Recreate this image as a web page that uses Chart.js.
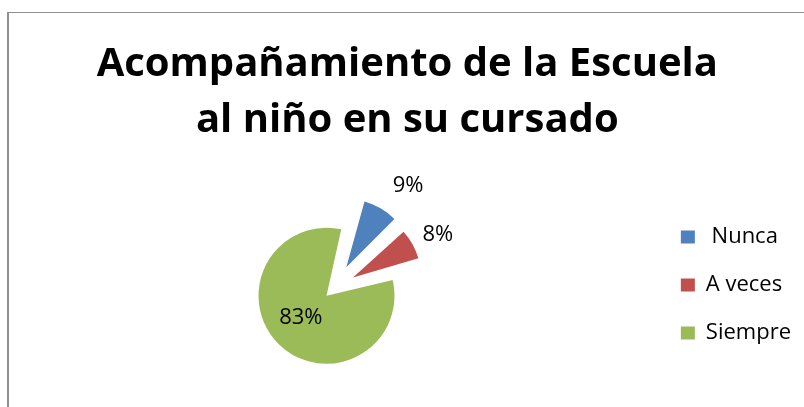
<!DOCTYPE html>
<html>
<head>
<meta charset="utf-8">
<script src="https://cdn.jsdelivr.net/npm/chart.js@4.4.1/dist/chart.umd.min.js"></script>
<style>
  html, body { margin: 0; padding: 0; background: #ffffff; overflow: hidden; }
  #wrap { position: relative; width: 804px; height: 407px; }
  #chart { position: absolute; left: 0; top: 0; }
  #frame { position: absolute; left: 7px; top: 12px; width: 820px; height: 420px;
           border-left: 2px solid #8f8f8f; border-top: 1.5px solid #8f8f8f; pointer-events: none; }
</style>
</head>
<body>
<div id="wrap">
  <canvas id="chart" width="804" height="407" style="width:804px;height:407px"></canvas>
  <div id="frame"></div>
</div>
<script>
// ---- data ----
const categories = [' Nunca', 'A veces', 'Siempre'];
const percentages = [9, 8, 83];
const sliceColors = ['#4F81BD', '#C0504D', '#9BBB59'];
const titleLines = ['Acompañamiento de la Escuela', 'al niño en su cursado'];

// ---- percentage labels drawn from the arc elements ----
const pctLabels = {
  id: 'pctLabels',
  afterDatasetsDraw(chart, args, opts) {
    const ctx = chart.ctx;
    const meta = chart.getDatasetMeta(0);
    const values = chart.data.datasets[0].data;
    ctx.save();
    ctx.font = opts.font;
    ctx.fillStyle = opts.color;
    ctx.textAlign = 'center';
    ctx.textBaseline = 'middle';
    meta.data.forEach((arc, i) => {
      const p = arc.getProps(['x', 'y', 'startAngle', 'endAngle', 'outerRadius'], true);
      const mid = (p.startAngle + p.endAngle) / 2 + opts.angleNudge[i] * Math.PI / 180;
      const r = p.outerRadius * opts.distance[i];
      ctx.fillText(values[i] + '%', p.x + Math.cos(mid) * r, p.y + Math.sin(mid) * r);
    });
    ctx.restore();
  }
};

new Chart(document.getElementById('chart'), {
  type: 'pie',
  data: {
    labels: categories,
    datasets: [{
      data: percentages,
      backgroundColor: sliceColors,
      borderWidth: 0,
      offset: [96, 86, 44]
    }]
  },
  plugins: [pctLabels],
  options: {
    responsive: false,
    animation: false,
    rotation: 14,
    radius: 57,
    layout: { padding: { left: 13.6, right: 3, top: 0, bottom: 31.2 } },
    plugins: {
      title: {
        display: true,
        text: titleLines,
        color: '#000000',
        font: { family: 'Open Sans', size: 40, weight: 'bold', lineHeight: '56.6px' },
        padding: { top: 36, bottom: 50.8 }
      },
      legend: {
        display: true,
        position: 'right',
        align: 'start',
        fullSize: false,
        labels: {
          color: '#000000',
          font: { family: 'Open Sans', size: 22 },
          boxWidth: 14,
          boxHeight: 13,
          padding: 26
        }
      },
      tooltip: { enabled: false },
      pctLabels: {
        font: '22px "Open Sans"',
        color: '#000000',
        distance: [2.21, 2.04, 0.79],
        angleNudge: [5.7, 2.2, 3.3]
      }
    }
  }
});
</script>
</body>
</html>
